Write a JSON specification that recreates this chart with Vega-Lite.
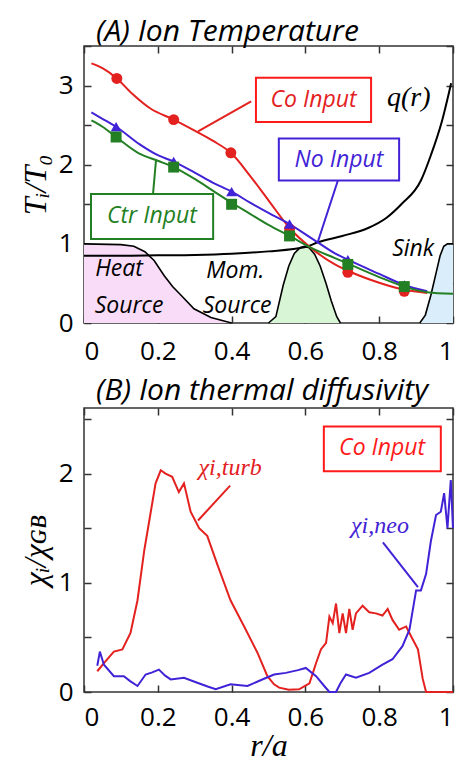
{
"$schema": "https://vega.github.io/schema/vega-lite/v6.json",
"background": "white",
"padding": {"left": 18, "top": 16, "right": 5, "bottom": 2},
"spacing": 10,
"config": {
 "view": {"stroke": "#333", "strokeWidth": 1.5},
 "font": "Open Sans",
 "axis": {"grid": false, "zindex": 1, "domain": false, "offset": -7, "tickColor": "#333", "tickWidth": 1.5, "tickSize": 7, "labelFont": "Open Sans", "labelFontSize": 26, "labelColor": "black", "titleFont": "Liberation Serif", "titleFontStyle": "italic", "titleFontWeight": "normal", "titleFontSize": 32, "titleColor": "black"}
},
"datasets": {
 "tempLines": [
  {"series":"Co","r":0.02,"T":3.28},{"series":"Co","r":0.05,"T":3.22},{"series":"Co","r":0.089,"T":3.09},{"series":"Co","r":0.13,"T":2.9},{"series":"Co","r":0.18,"T":2.71},{"series":"Co","r":0.243,"T":2.57},{"series":"Co","r":0.3,"T":2.43},{"series":"Co","r":0.35,"T":2.3},{"series":"Co","r":0.398,"T":2.15},{"series":"Co","r":0.45,"T":1.86},{"series":"Co","r":0.5,"T":1.55},{"series":"Co","r":0.557,"T":1.2},{"series":"Co","r":0.62,"T":0.93},{"series":"Co","r":0.68,"T":0.74},{"series":"Co","r":0.715,"T":0.66},{"series":"Co","r":0.78,"T":0.54},{"series":"Co","r":0.868,"T":0.42},{"series":"Co","r":0.93,"T":0.38},
  {"series":"No","r":0.02,"T":2.66},{"series":"No","r":0.05,"T":2.58},{"series":"No","r":0.087,"T":2.48},{"series":"No","r":0.15,"T":2.26},{"series":"No","r":0.2,"T":2.12},{"series":"No","r":0.243,"T":2.04},{"series":"No","r":0.3,"T":1.9},{"series":"No","r":0.35,"T":1.77},{"series":"No","r":0.4,"T":1.66},{"series":"No","r":0.45,"T":1.52},{"series":"No","r":0.5,"T":1.39},{"series":"No","r":0.557,"T":1.25},{"series":"No","r":0.62,"T":1.06},{"series":"No","r":0.68,"T":0.88},{"series":"No","r":0.715,"T":0.8},{"series":"No","r":0.8,"T":0.62},{"series":"No","r":0.868,"T":0.48},{"series":"No","r":0.93,"T":0.4},
  {"series":"Ctr","r":0.02,"T":2.56},{"series":"Ctr","r":0.05,"T":2.48},{"series":"Ctr","r":0.087,"T":2.35},{"series":"Ctr","r":0.15,"T":2.14},{"series":"Ctr","r":0.2,"T":2.05},{"series":"Ctr","r":0.243,"T":1.97},{"series":"Ctr","r":0.3,"T":1.82},{"series":"Ctr","r":0.35,"T":1.67},{"series":"Ctr","r":0.4,"T":1.52},{"series":"Ctr","r":0.45,"T":1.38},{"series":"Ctr","r":0.5,"T":1.24},{"series":"Ctr","r":0.557,"T":1.1},{"series":"Ctr","r":0.62,"T":0.94},{"series":"Ctr","r":0.68,"T":0.82},{"series":"Ctr","r":0.715,"T":0.75},{"series":"Ctr","r":0.8,"T":0.58},{"series":"Ctr","r":0.868,"T":0.46},{"series":"Ctr","r":0.93,"T":0.39},{"series":"Ctr","r":1.0,"T":0.37}
 ],
 "tempMarks": [
  {"series":"Co","r":0.089,"T":3.09},{"series":"Co","r":0.243,"T":2.57},{"series":"Co","r":0.398,"T":2.15},{"series":"Co","r":0.557,"T":1.19},{"series":"Co","r":0.715,"T":0.64},{"series":"Co","r":0.868,"T":0.4},
  {"series":"No","r":0.087,"T":2.48},{"series":"No","r":0.243,"T":2.04},{"series":"No","r":0.4,"T":1.66},{"series":"No","r":0.557,"T":1.25},{"series":"No","r":0.715,"T":0.8},{"series":"No","r":0.868,"T":0.48},
  {"series":"Ctr","r":0.087,"T":2.35},{"series":"Ctr","r":0.243,"T":1.97},{"series":"Ctr","r":0.4,"T":1.5},{"series":"Ctr","r":0.557,"T":1.1},{"series":"Ctr","r":0.715,"T":0.74},{"series":"Ctr","r":0.868,"T":0.46}
 ],
 "q": [
  {"r":0,"q":0.85},{"r":0.1,"q":0.85},{"r":0.2,"q":0.855},{"r":0.3,"q":0.86},{"r":0.4,"q":0.875},{"r":0.5,"q":0.905},{"r":0.6,"q":0.96},{"r":0.634,"q":1.02},{"r":0.7,"q":1.1},{"r":0.77,"q":1.2},{"r":0.82,"q":1.33},{"r":0.86,"q":1.5},{"r":0.913,"q":1.8},{"r":0.94,"q":2.12},{"r":0.97,"q":2.55},{"r":0.995,"q":3.03}
 ],
 "heat": [
  {"r":0,"s":1.0},{"r":0.1,"s":0.99},{"r":0.135,"s":0.97},{"r":0.165,"s":0.9},{"r":0.19,"s":0.79},{"r":0.217,"s":0.6},{"r":0.24,"s":0.46},{"r":0.263,"s":0.35},{"r":0.298,"s":0.18},{"r":0.344,"s":0.07},{"r":0.4,"s":0.0}
 ],
 "mom": [
  {"r":0.5,"s":0.0},{"r":0.52,"s":0.08},{"r":0.54,"s":0.48},{"r":0.555,"s":0.72},{"r":0.57,"s":0.88},{"r":0.585,"s":0.95},{"r":0.597,"s":0.97},{"r":0.61,"s":0.95},{"r":0.625,"s":0.87},{"r":0.64,"s":0.72},{"r":0.656,"s":0.5},{"r":0.67,"s":0.28},{"r":0.685,"s":0.08},{"r":0.695,"s":0.0}
 ],
 "sink": [
  {"r":0.91,"s":0.0},{"r":0.925,"s":0.1},{"r":0.94,"s":0.35},{"r":0.955,"s":0.65},{"r":0.965,"s":0.85},{"r":0.975,"s":0.97},{"r":0.985,"s":1.0},{"r":1.0,"s":1.0}
 ],
 "boxesA": [
  {"series":"Co","x1":0.466,"x2":0.778,"y1":2.54,"y2":3.1,"tx":0.622,"ty":2.82,"text":"Co Input"},
  {"series":"No","x1":0.528,"x2":0.854,"y1":1.8,"y2":2.33,"tx":0.691,"ty":2.06,"text":"No Input"},
  {"series":"Ctr","x1":0.019,"x2":0.35,"y1":1.06,"y2":1.63,"tx":0.184,"ty":1.35,"text":"Ctr Input"}
 ],
 "leadersA": [
  {"series":"Co","x1":0.453,"y1":2.8,"x2":0.309,"y2":2.42},
  {"series":"No","x1":0.688,"y1":1.8,"x2":0.634,"y2":1.03},
  {"series":"Ctr","x1":0.195,"y1":2.05,"x2":0.187,"y2":1.63}
 ],
 "labelsA": [
  {"text":"Heat","x":0.095,"y":0.68},{"text":"Source","x":0.122,"y":0.22},
  {"text":"Mom.","x":0.41,"y":0.66},{"text":"Source","x":0.415,"y":0.22},
  {"text":"Sink","x":0.892,"y":0.94}
 ],
 "qlabel": [{"text":"q(r)","x":0.88,"y":2.84}],
 "chi": [
  {"series":"turb","r":0.036,"c":0.19},{"series":"turb","r":0.054,"c":0.265},{"series":"turb","r":0.081,"c":0.37},{"series":"turb","r":0.104,"c":0.39},{"series":"turb","r":0.126,"c":0.54},{"series":"turb","r":0.145,"c":0.84},{"series":"turb","r":0.163,"c":1.29},{"series":"turb","r":0.181,"c":1.65},{"series":"turb","r":0.194,"c":1.91},{"series":"turb","r":0.208,"c":2.03},{"series":"turb","r":0.221,"c":2.0},{"series":"turb","r":0.239,"c":1.97},{"series":"turb","r":0.257,"c":1.83},{"series":"turb","r":0.271,"c":1.91},{"series":"turb","r":0.289,"c":1.65},{"series":"turb","r":0.312,"c":1.5},{"series":"turb","r":0.334,"c":1.43},{"series":"turb","r":0.361,"c":1.17},{"series":"turb","r":0.397,"c":0.84},{"series":"turb","r":0.434,"c":0.6},{"series":"turb","r":0.47,"c":0.36},{"series":"turb","r":0.497,"c":0.145},{"series":"turb","r":0.515,"c":0.07},{"series":"turb","r":0.529,"c":0.04},{"series":"turb","r":0.555,"c":0.02},{"series":"turb","r":0.583,"c":0.025},{"series":"turb","r":0.611,"c":0.08},{"series":"turb","r":0.629,"c":0.265},{"series":"turb","r":0.642,"c":0.39},{"series":"turb","r":0.656,"c":0.45},{"series":"turb","r":0.665,"c":0.69},{"series":"turb","r":0.674,"c":0.63},{"series":"turb","r":0.683,"c":0.81},{"series":"turb","r":0.692,"c":0.54},{"series":"turb","r":0.701,"c":0.72},{"series":"turb","r":0.71,"c":0.54},{"series":"turb","r":0.719,"c":0.76},{"series":"turb","r":0.728,"c":0.57},{"series":"turb","r":0.737,"c":0.72},{"series":"turb","r":0.755,"c":0.79},{"series":"turb","r":0.773,"c":0.73},{"series":"turb","r":0.791,"c":0.72},{"series":"turb","r":0.809,"c":0.7},{"series":"turb","r":0.823,"c":0.76},{"series":"turb","r":0.836,"c":0.66},{"series":"turb","r":0.854,"c":0.57},{"series":"turb","r":0.873,"c":0.6},{"series":"turb","r":0.891,"c":0.48},{"series":"turb","r":0.905,"c":0.39},{"series":"turb","r":0.918,"c":0.12},{"series":"turb","r":0.927,"c":0.0},{"series":"turb","r":1.0,"c":0.0},
  {"series":"neo","r":0.036,"c":0.24},{"series":"neo","r":0.043,"c":0.37},{"series":"neo","r":0.054,"c":0.25},{"series":"neo","r":0.081,"c":0.145},{"series":"neo","r":0.108,"c":0.145},{"series":"neo","r":0.125,"c":0.1},{"series":"neo","r":0.145,"c":0.055},{"series":"neo","r":0.167,"c":0.16},{"series":"neo","r":0.185,"c":0.18},{"series":"neo","r":0.203,"c":0.205},{"series":"neo","r":0.22,"c":0.15},{"series":"neo","r":0.235,"c":0.115},{"series":"neo","r":0.271,"c":0.13},{"series":"neo","r":0.307,"c":0.085},{"series":"neo","r":0.335,"c":0.05},{"series":"neo","r":0.357,"c":0.025},{"series":"neo","r":0.397,"c":0.07},{"series":"neo","r":0.443,"c":0.055},{"series":"neo","r":0.48,"c":0.11},{"series":"neo","r":0.515,"c":0.16},{"series":"neo","r":0.547,"c":0.175},{"series":"neo","r":0.58,"c":0.2},{"series":"neo","r":0.601,"c":0.22},{"series":"neo","r":0.629,"c":0.145},{"series":"neo","r":0.651,"c":0.055},{"series":"neo","r":0.665,"c":0.0},{"series":"neo","r":0.683,"c":0.0},{"series":"neo","r":0.695,"c":0.08},{"series":"neo","r":0.71,"c":0.16},{"series":"neo","r":0.737,"c":0.13},{"series":"neo","r":0.773,"c":0.175},{"series":"neo","r":0.809,"c":0.25},{"series":"neo","r":0.836,"c":0.3},{"series":"neo","r":0.863,"c":0.42},{"series":"neo","r":0.882,"c":0.57},{"series":"neo","r":0.9,"c":0.93},{"series":"neo","r":0.913,"c":0.93},{"series":"neo","r":0.927,"c":1.08},{"series":"neo","r":0.94,"c":1.38},{"series":"neo","r":0.954,"c":1.62},{"series":"neo","r":0.967,"c":1.65},{"series":"neo","r":0.976,"c":1.82},{"series":"neo","r":0.985,"c":1.5},{"series":"neo","r":0.994,"c":1.94},{"series":"neo","r":1.0,"c":1.5}
 ],
 "boxB": [{"series":"turb","x1":0.65,"x2":0.967,"y1":2.02,"y2":2.43,"tx":0.808,"ty":2.23,"text":"Co Input"}],
 "leadersB": [
  {"series":"turb","x1":0.396,"y1":1.89,"x2":0.309,"y2":1.57},
  {"series":"neo","x1":0.81,"y1":1.37,"x2":0.905,"y2":0.96}
 ],
 "labelsB": [
  {"series":"turb","text":"χi,turb","x":0.396,"y":2.05},
  {"series":"neo","text":"χi,neo","x":0.802,"y":1.52}
 ]
},
"vconcat": [
 {
  "width": 369, "height": 277,
  "title": {"text": "(A) Ion Temperature", "anchor": "start", "frame": "group", "dx": 12, "fontSize": 30, "font": "Open Sans", "fontStyle": "italic", "fontWeight": "normal", "offset": -2, "color": "black"},
  "resolve": {"axis": {"x": "independent", "y": "independent"}},
  "layer": [
   {"data": {"name": "heat"}, "mark": {"type": "area", "color": "#f9dcf8", "opacity": 1, "line": {"color": "black", "strokeWidth": 1.6}},
    "encoding": {
     "x": {"field": "r", "type": "quantitative", "scale": {"domain": [0, 1]}, "axis": {"orient": "bottom", "values": [0, 0.2, 0.4, 0.6, 0.8, 1], "format": "~g", "title": null, "labelPadding": 15}},
     "y": {"field": "s", "type": "quantitative", "scale": {"domain": [0, 3.5]}, "axis": {"orient": "left", "values": [0, 0.5, 1, 1.5, 2, 2.5, 3, 3.5], "format": "~g", "labelExpr": "datum.value % 1 == 0 ? datum.label : ''", "title": "Tᵢ/T₀", "titlePadding": 6, "labelPadding": 11}}
    }},
   {"data": {"name": "mom"}, "mark": {"type": "area", "color": "#d8f5d6", "opacity": 1, "line": {"color": "black", "strokeWidth": 1.6}},
    "encoding": {"x": {"field": "r", "type": "quantitative", "axis": null}, "y": {"field": "s", "type": "quantitative", "axis": null}}},
   {"data": {"name": "sink"}, "mark": {"type": "area", "color": "#d9eefa", "opacity": 1, "line": {"color": "black", "strokeWidth": 1.6}},
    "encoding": {"x": {"field": "r", "type": "quantitative", "axis": null}, "y": {"field": "s", "type": "quantitative", "axis": null}}},
   {"data": {"name": "q"}, "mark": {"type": "line", "color": "black", "strokeWidth": 2, "interpolate": "monotone"},
    "encoding": {
     "x": {"field": "r", "type": "quantitative", "axis": {"orient": "top", "values": [0, 0.2, 0.4, 0.6, 0.8, 1], "labels": false, "title": null}},
     "y": {"field": "q", "type": "quantitative", "axis": {"orient": "right", "values": [0, 0.5, 1, 1.5, 2, 2.5, 3, 3.5], "labels": false, "title": null}}
    }},
   {"data": {"name": "tempLines"}, "mark": {"type": "line", "strokeWidth": 2, "interpolate": "monotone"},
    "encoding": {
     "x": {"field": "r", "type": "quantitative", "axis": null},
     "y": {"field": "T", "type": "quantitative", "axis": null},
     "color": {"field": "series", "type": "nominal", "scale": {"domain": ["Co", "No", "Ctr"], "range": ["#e3211f", "#4222d6", "#237f23"]}, "legend": null}
    }},
   {"data": {"name": "tempMarks"}, "mark": {"type": "point", "filled": true, "size": 120, "opacity": 1},
    "encoding": {
     "x": {"field": "r", "type": "quantitative", "axis": null},
     "y": {"field": "T", "type": "quantitative", "axis": null},
     "color": {"field": "series", "type": "nominal", "legend": null},
     "shape": {"field": "series", "type": "nominal", "scale": {"domain": ["Co", "No", "Ctr"], "range": ["circle", "triangle-up", "square"]}, "legend": null}
    }},
   {"data": {"name": "leadersA"}, "mark": {"type": "rule", "strokeWidth": 2},
    "encoding": {
     "x": {"field": "x1", "type": "quantitative", "axis": null}, "x2": {"field": "x2"},
     "y": {"field": "y1", "type": "quantitative", "axis": null}, "y2": {"field": "y2"},
     "color": {"field": "series", "type": "nominal", "legend": null}
    }},
   {"data": {"name": "boxesA"}, "mark": {"type": "rect", "fill": "white", "strokeWidth": 2},
    "encoding": {
     "x": {"field": "x1", "type": "quantitative", "axis": null}, "x2": {"field": "x2"},
     "y": {"field": "y1", "type": "quantitative", "axis": null}, "y2": {"field": "y2"},
     "stroke": {"field": "series", "type": "nominal", "scale": {"domain": ["Co", "No", "Ctr"], "range": ["#ff1a1a", "#4222d6", "#237f23"]}, "legend": null}
    }},
   {"data": {"name": "boxesA"}, "mark": {"type": "text", "font": "Open Sans", "fontStyle": "italic", "fontSize": 23, "baseline": "middle", "align": "center"},
    "encoding": {
     "x": {"field": "tx", "type": "quantitative", "axis": null},
     "y": {"field": "ty", "type": "quantitative", "axis": null},
     "text": {"field": "text"},
     "color": {"field": "series", "type": "nominal", "legend": null}
    }},
   {"data": {"name": "labelsA"}, "mark": {"type": "text", "font": "Open Sans", "fontStyle": "italic", "fontSize": 23, "baseline": "middle", "align": "center", "color": "black"},
    "encoding": {
     "x": {"field": "x", "type": "quantitative", "axis": null},
     "y": {"field": "y", "type": "quantitative", "axis": null},
     "text": {"field": "text"}
    }},
   {"data": {"name": "qlabel"}, "mark": {"type": "text", "font": "Liberation Serif", "fontStyle": "italic", "fontSize": 28, "baseline": "middle", "align": "center", "color": "black"},
    "encoding": {
     "x": {"field": "x", "type": "quantitative", "axis": null},
     "y": {"field": "y", "type": "quantitative", "axis": null},
     "text": {"field": "text"}
    }}
  ]
 },
 {
  "width": 369, "height": 284,
  "title": {"text": "(B) Ion thermal diffusivity", "anchor": "start", "frame": "group", "dx": 12, "fontSize": 30, "font": "Open Sans", "fontStyle": "italic", "fontWeight": "normal", "offset": 1, "color": "black"},
  "resolve": {"axis": {"x": "independent", "y": "independent"}},
  "layer": [
   {"data": {"name": "chi"}, "mark": {"type": "line", "strokeWidth": 2},
    "encoding": {
     "x": {"field": "r", "type": "quantitative", "scale": {"domain": [0, 1]}, "axis": {"orient": "bottom", "values": [0, 0.2, 0.4, 0.6, 0.8, 1], "format": "~g", "title": "r/a", "titlePadding": 0, "labelPadding": 12}},
     "y": {"field": "c", "type": "quantitative", "scale": {"domain": [0, 2.5]}, "axis": {"orient": "left", "values": [0, 0.5, 1, 1.5, 2, 2.5], "format": "~g", "labelExpr": "datum.value % 1 == 0 ? datum.label : ''", "title": "χᵢ/χɢʙ", "titlePadding": 6, "labelPadding": 11}},
     "color": {"field": "series", "type": "nominal", "scale": {"domain": ["turb", "neo"], "range": ["#e3211f", "#4a2adb"]}, "legend": null}
    }},
   {"data": {"name": "leadersB"}, "mark": {"type": "rule", "strokeWidth": 2},
    "encoding": {
     "x": {"field": "x1", "type": "quantitative", "axis": {"orient": "top", "values": [0, 0.2, 0.4, 0.6, 0.8, 1], "labels": false, "title": null}}, "x2": {"field": "x2"},
     "y": {"field": "y1", "type": "quantitative", "axis": {"orient": "right", "values": [0, 0.5, 1, 1.5, 2, 2.5], "labels": false, "title": null}}, "y2": {"field": "y2"},
     "color": {"field": "series", "type": "nominal", "legend": null}
    }},
   {"data": {"name": "boxB"}, "mark": {"type": "rect", "fill": "white", "strokeWidth": 2, "stroke": "#ff1a1a"},
    "encoding": {
     "x": {"field": "x1", "type": "quantitative", "axis": null}, "x2": {"field": "x2"},
     "y": {"field": "y1", "type": "quantitative", "axis": null}, "y2": {"field": "y2"}
    }},
   {"data": {"name": "boxB"}, "mark": {"type": "text", "font": "Open Sans", "fontStyle": "italic", "fontSize": 23, "baseline": "middle", "align": "center", "color": "#ff1a1a"},
    "encoding": {
     "x": {"field": "tx", "type": "quantitative", "axis": null},
     "y": {"field": "ty", "type": "quantitative", "axis": null},
     "text": {"field": "text"}
    }},
   {"data": {"name": "labelsB"}, "mark": {"type": "text", "font": "Liberation Serif", "fontStyle": "italic", "fontSize": 24, "baseline": "middle", "align": "center"},
    "encoding": {
     "x": {"field": "x", "type": "quantitative", "axis": null},
     "y": {"field": "y", "type": "quantitative", "axis": null},
     "text": {"field": "text"},
     "color": {"field": "series", "type": "nominal", "legend": null}
    }}
  ]
 }
]
}
